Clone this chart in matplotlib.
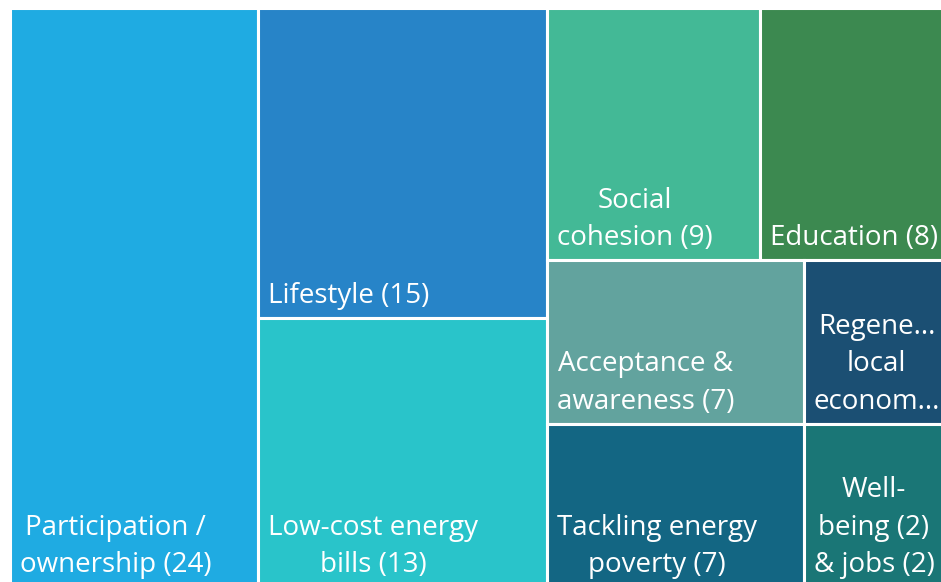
import matplotlib.pyplot as plt
from matplotlib.patches import Rectangle

labels = [
    "Participation /\nownership (24)",
    "Lifestyle (15)",
    "Low-cost energy\nbills (13)",
    "Social\ncohesion (9)",
    "Education (8)",
    "Acceptance &\nawareness (7)",
    "Tackling energy\npoverty (7)",
    "Regene...\nlocal\neconom...",
    "Well-\nbeing (2)\n& jobs (2)",
]
values = [24, 15, 13, 9, 8, 7, 7, 4, 4]
colors = ["#1FABE2", "#2784C8", "#29C4CA", "#43B996", "#3C8950",
          "#62A39E", "#136683", "#1B4F73", "#1A7676"]

# estrutura do treemap: 'h' divide na largura, 'v' na altura
layout = ('h', [0, ('v', [1, 2]),
                ('v', [('h', [3, 4]),
                       ('h', [('v', [5, 6]), ('v', [7, 8])])])])


def total(node):
    if isinstance(node, int):
        return values[node]
    return sum(total(c) for c in node[1])


def place(node, x, y, w, h, out):
    if isinstance(node, int):
        out[node] = (x, y, w, h)
        return
    kind, children = node
    s = total(node)
    for c in children:
        frac = total(c) / s
        if kind == 'h':
            place(c, x, y, w * frac, h, out)
            x += w * frac
        else:
            place(c, x, y, w, h * frac, out)
            y += h * frac


rects = {}
place(layout, 10, 8, 940, 579, rects)

plt.rcParams['font.family'] = ['Open Sans', 'DejaVu Sans']
fig = plt.figure(figsize=(9.41, 5.82), dpi=100)
ax = fig.add_axes([0, 0, 1, 1])
ax.set_xlim(0, 941)
ax.set_ylim(582, 0)
ax.axis('off')

for i, lab in enumerate(labels):
    x, y, w, h = rects[i]
    ax.add_patch(Rectangle((x, y), w, h, facecolor=colors[i],
                           edgecolor='white', linewidth=2.2))
    ax.text(x + 10, y + h - 8, lab, color='white', fontsize=20,
            ha='left', va='bottom', multialignment='center',
            linespacing=1.45, clip_on=True)

fig.savefig('out.png', dpi=100)
